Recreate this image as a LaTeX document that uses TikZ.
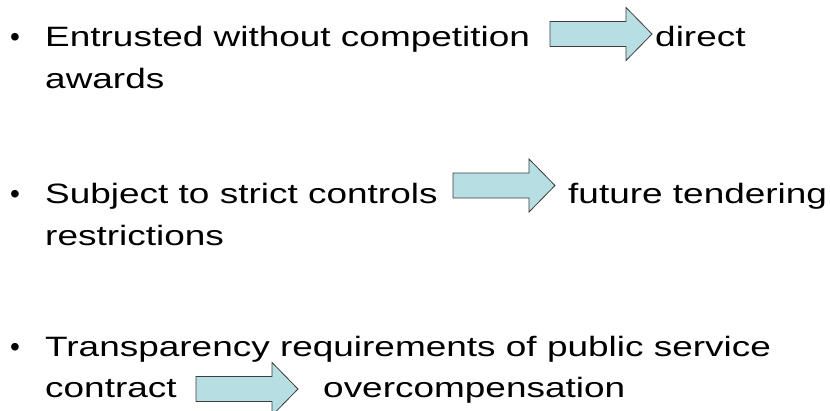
\documentclass[tikz,border=0pt]{standalone}
\usepackage{fontspec}
\setmainfont{Liberation Sans}[FakeStretch=1.32]
\newfontfamily\bulletfont{Liberation Sans}
\definecolor{arrowfill}{RGB}{183,223,227}
\definecolor{arrowline}{RGB}{60,60,60}
\begin{document}
\begin{tikzpicture}[x=1pt,y=-1pt,
  txt/.style={anchor=base west, inner sep=0pt, font=\fontsize{28}{34}\selectfont},
  bul/.style={anchor=base, inner sep=0pt, font=\bulletfont\fontsize{28}{34}\selectfont},
  arrowbox/.style={fill=arrowfill, draw=arrowline, line width=0.8pt, line join=miter},
  rarrow/.pic={\draw[arrowbox] (0,-12.5) -- (76,-12.5) -- (76,-26.5) -- (102,0) -- (76,26.5) -- (76,12.5) -- (0,12.5) -- cycle;}]
\useasboundingbox (0,0) rectangle (830,410);

% item 1
\node[bul] (b1) at (15,46) {•};
\node[txt] (t1a) at (45,46) {Entrusted without competition};
\pic (a1) at (550,34) {rarrow};
\node[txt] (t1b) at (655,46) {direct};
\node[txt] (t1c) at (45,88) {awards};

% item 2
\node[bul] (b2) at (15,203) {•};
\node[txt] (t2a) at (45,203) {Subject to strict controls};
\pic (a2) at (453,185.5) {rarrow};
\node[txt] (t2b) at (568,203) {future tendering};
\node[txt] (t2c) at (45,245) {restrictions};

% item 3
\node[bul] (b3) at (15,356) {•};
\node[txt] (t3a) at (45,356) {Transparency requirements of public service};
\node[txt] (t3c) at (45,397) {contract};
\pic (a3) at (196,389) {rarrow};
\node[txt] (t3b) at (323,397) {overcompensation};
\end{tikzpicture}
\end{document}
